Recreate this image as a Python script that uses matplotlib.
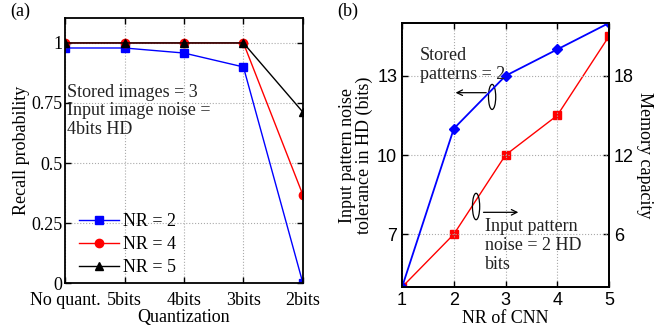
import matplotlib
matplotlib.use('Agg')
import matplotlib.pyplot as plt
from matplotlib.patches import Ellipse

plt.rcParams['font.family'] = 'Liberation Serif'
plt.rcParams['mathtext.fontset'] = 'stix'

# (a) data
quant_labels = ['No quant.', '5bits', '4bits', '3bits', '2bits']
recall_nr2 = [0.979, 0.979, 0.958, 0.90, 0.0]
recall_nr4 = [1.0, 1.0, 1.0, 1.0, 0.367]
recall_nr5 = [1.0, 1.0, 1.0, 1.0, 0.712]

# (b) data
nr_values = [1, 2, 3, 4, 5]
noise_tolerance = [5, 11, 13, 14, 15]
memory_capacity = [2, 6, 12, 15, 21]

fs = 13

fig = plt.figure(figsize=(6.57, 3.33), dpi=100)

# ---- panel (a)
ax = fig.add_axes([0.099, 0.150, 0.362, 0.796])
xpos = list(range(1, len(quant_labels) + 1))
ax.plot(xpos, recall_nr2, color='blue', marker='s', markersize=6, lw=1.0, label='NR = 2')
ax.plot(xpos, recall_nr4, color='red', marker='o', markersize=6, lw=1.0, label='NR = 4')
ax.plot(xpos, recall_nr5, color='black', marker='^', markersize=6, lw=1.0, label='NR = 5')
ax.set_xlim(1, 5)
ax.set_ylim(0, 1.104)
ax.set_xticks(xpos)
ax.set_xticklabels(quant_labels)
ax.set_yticks([0, 0.25, 0.5, 0.75, 1])
ax.set_yticklabels(['0', '0.25', '0.5', '0.75', '1'])
ax.tick_params(direction='in', labelsize=fs, length=4, width=1, top=True, right=True)
ax.tick_params(axis='x', pad=6.5)
ax.tick_params(axis='y', pad=2)
ax.grid(True, linestyle=':', color='#aaaaaa', lw=0.8)
for s in ax.spines.values():
    s.set_linewidth(1.3)
ax.set_xlabel('Quantization', fontsize=fs, labelpad=0)
ax.set_ylabel('Recall probability', fontsize=fs, labelpad=1)
ax.text(1.03, 0.83, 'Stored images = 3\nInput image noise =\n4bits HD',
        fontsize=fs, va='top', ha='left', linespacing=1.13, color='#222222')
ax.legend(loc='lower left', frameon=False, fontsize=fs, handlelength=2.2,
          handletextpad=0.2, labelspacing=0.33, borderaxespad=0.0,
          bbox_to_anchor=(0.03, 0.0))
fig.text(0.015, 0.965, '(a)', fontsize=fs, va='center', ha='left')

# ---- panel (b)
bx = fig.add_axes([0.612, 0.138, 0.315, 0.793])
bx2 = bx.twinx()
bx.set_zorder(bx2.get_zorder() + 1)
bx.patch.set_visible(False)

bx2.plot(nr_values, memory_capacity, color='red', marker='s', markersize=6, lw=1.0)
bx.plot(nr_values, noise_tolerance, color='blue', marker='D', markersize=5, lw=1.3)

bx.set_xlim(1, 5)
bx.set_ylim(5, 15)
bx2.set_ylim(2, 22)
bx.set_xticks(nr_values)
bx.set_yticks([7, 10, 13])
bx2.set_yticks([6, 12, 18])
for a in (bx, bx2):
    a.tick_params(direction='in', labelsize=fs, length=4, width=1)
    for lab in a.get_xticklabels() + a.get_yticklabels():
        lab.set_family('Liberation Sans')
    for s in a.spines.values():
        s.set_linewidth(1.3)
bx.tick_params(top=True)
bx.grid(True, linestyle=':', color='#aaaaaa', lw=0.8)
bx.set_xlabel('NR of CNN', fontsize=fs, labelpad=1)
bx.set_ylabel('Input pattern noise\ntolerance in HD (bits)', fontsize=fs, labelpad=3,
              linespacing=0.95)
bx2.set_ylabel('Memory capacity', fontsize=fs, rotation=270, labelpad=14)

bx.text(1.35, 14.1, 'Stored\npatterns = 2', fontsize=fs, va='top', ha='left',
        linespacing=1.15, color='#222222')
bx.add_patch(Ellipse((2.74, 12.2), 0.14, 0.95, fill=False, lw=0.9, color='black'))
bx.annotate('', xy=(1.98, 12.36), xytext=(2.68, 12.36),
            arrowprops=dict(arrowstyle='->', lw=0.9, color='black'))
bx.add_patch(Ellipse((2.43, 8.05), 0.14, 1.0, fill=False, lw=0.9, color='black'))
bx.annotate('', xy=(3.3, 7.83), xytext=(2.52, 7.83),
            arrowprops=dict(arrowstyle='->', lw=0.9, color='black'))
bx.text(2.6, 7.6, 'Input pattern\nnoise = 2 HD\nbits', fontsize=fs, va='top',
        ha='left', linespacing=1.15, color='#222222')
fig.text(0.513, 0.965, '(b)', fontsize=fs, va='center', ha='left')

fig.savefig('out.png', dpi=100)
